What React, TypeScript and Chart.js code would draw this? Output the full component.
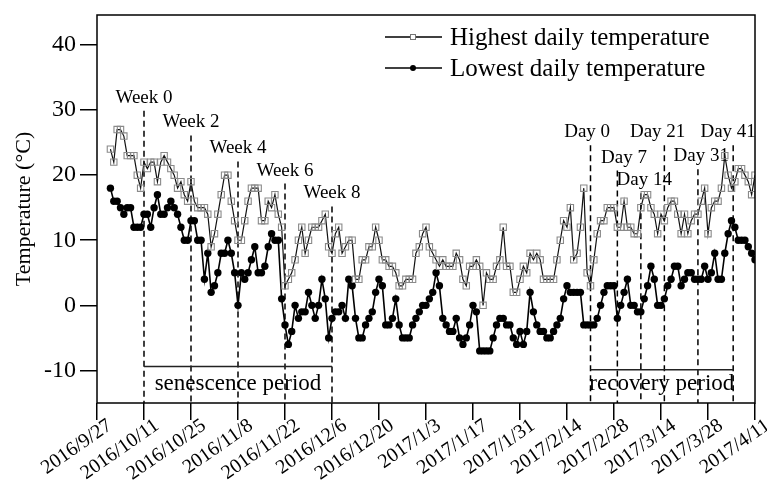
import React, { useEffect, useRef } from 'react';
import { Chart, registerables } from 'chart.js';

Chart.register(...registerables);

const SERIF = '"Liberation Serif", "Times New Roman", serif';

// x axis: days after 2016/9/27
const xTickLabels = [
  '2016/9/27', '2016/10/11', '2016/10/25', '2016/11/8', '2016/11/22', '2016/12/6', '2016/12/20',
  '2017/1/3', '2017/1/17', '2017/1/31', '2017/2/14', '2017/2/28', '2017/3/14', '2017/3/28', '2017/4/11',
];
const xTickDays = [0, 14, 28, 42, 56, 70, 84, 98, 112, 126, 140, 154, 168, 182, 196];
const yTickValues = [-10, 0, 10, 20, 30, 40];

const firstDataDay = 4; // 2016/10/1

const highTemps = [
  24, 22, 27, 27, 26, 23, 23, 23, 20, 18,
  22, 21, 22, 22, 19, 22, 23, 22, 21, 20,
  18, 19, 17, 16, 19, 16, 15, 15, 15, 14,
  9, 11, 14, 17, 20, 20, 16, 13, 10, 10,
  13, 16, 18, 18, 18, 13, 13, 16, 15, 17,
  14, 12, 3, 4, 5, 7, 10, 12, 8, 10,
  12, 12, 12, 13, 14, 9, 8, 11, 12, 8,
  9, 10, 10, 4, 4, 7, 7, 9, 9, 12,
  10, 7, 7, 6, 6, 5, 3, 3, 4, 4,
  4, 8, 9, 11, 12, 9, 8, 7, 6, 7,
  6, 6, 6, 8, 7, 4, 3, 6, 6, 7,
  6, 0, 5, 4, 4, 6, 7, 12, 6, 6,
  2, 2, 4, 6, 5, 8, 7, 8, 7, 4,
  4, 4, 4, 7, 10, 13, 12, 15, 7, 8,
  12, 18, 5, 3, 7, 11, 13, 13, 15, 15,
  15, 12, 12, 16, 12, 12, 11, 11, 15, 17,
  17, 15, 14, 11, 14, 13, 15, 16, 16, 14,
  11, 14, 11, 13, 14, 14, 16, 18, 11, 15,
  16, 16, 18, 23, 20, 18, 19, 21, 21, 20,
  19, 17, 20,
];

const lowTemps = [
  18, 16, 16, 15, 14, 15, 15, 12, 12, 12,
  14, 14, 12, 15, 17, 14, 14, 15, 16, 15,
  14, 12, 10, 10, 13, 13, 10, 10, 4, 8,
  2, 3, 5, 8, 8, 10, 8, 5, 0, 5,
  4, 5, 7, 9, 5, 5, 6, 9, 11, 10,
  10, 1, -3, -6, -4, 0, -2, -1, -1, 2,
  0, -2, 0, 4, 1, -5, -2, -1, -1, 0,
  -2, 4, 3, -2, -5, -5, -3, -2, -1, 2,
  4, 3, -3, -3, -2, 1, -3, -5, -5, -5,
  -3, -2, -1, 0, 0, 1, 2, 5, 3, -2,
  -3, -4, -4, -2, -5, -6, -5, -3, 0, -1,
  -7, -7, -7, -7, -5, -3, -2, -2, -3, -3,
  -5, -6, -4, -6, -4, 2, -1, -3, -4, -4,
  -5, -5, -4, -3, -2, 1, 3, 2, 2, 2,
  2, -3, -3, -3, -3, -2, 0, 2, 3, 3,
  3, -2, 0, 2, 4, 0, 0, -1, -1, 1,
  3, 6, 4, 0, 0, 1, 3, 4, 6, 6,
  3, 4, 5, 5, 4, 4, 4, 6, 4, 5,
  8, 4, 4, 8, 11, 13, 12, 10, 10, 10,
  9, 8, 7,
];

const seriesNames = ['Highest daily temperature', 'Lowest daily temperature'];

const weekLabels = ['Week 0', 'Week 2', 'Week 4', 'Week 6', 'Week 8'];
const weekDays = [14, 28, 42, 56, 70];
const weekLabelTemps = [31.9, 28.1, 24.1, 20.7, 17.2];

const dayLabels = ['Day 0', 'Day 7', 'Day 14', 'Day 21', 'Day 31', 'Day 41'];
const dayLineDays = [147, 155, 162, 169, 179, 189.5];
const dayLabelDays = [146, 157, 163, 167, 180, 188];
const dayLabelTemps = [26.6, 22.7, 19.2, 26.6, 22.9, 26.6];

const periodLabels = ['senescence period', 'recovery period'];
const periodStartDays = [14, 147];
const periodEndDays = [70, 189.5];
const periodLineTemps = [-9.4, -9.9];
const periodTextTemps = [-12.1, -12.1];

const X_LABEL_ANGLE = (35 * Math.PI) / 180;

const annotationPlugin = {
  id: 'tempAnnotations',
  beforeDatasetsDraw(chart: any) {
    const { ctx, chartArea, scales } = chart;
    const x = scales.x;
    const y = scales.y;
    ctx.save();
    ctx.strokeStyle = '#000';
    ctx.lineWidth = 1.5;
    ctx.setLineDash([6, 4]);
    weekDays.forEach((d, i) => {
      const px = x.getPixelForValue(d);
      const top = y.getPixelForValue(weekLabelTemps[i]) + 13;
      ctx.beginPath();
      ctx.moveTo(px, top);
      ctx.lineTo(px, chartArea.bottom);
      ctx.stroke();
    });
    dayLineDays.forEach((d, i) => {
      const px = x.getPixelForValue(d);
      const top = y.getPixelForValue(dayLabelTemps[i]) + 13;
      ctx.beginPath();
      ctx.moveTo(px, top);
      ctx.lineTo(px, chartArea.bottom);
      ctx.stroke();
    });
    ctx.setLineDash([]);
    ctx.strokeStyle = '#222';
    ctx.lineWidth = 1.5;
    periodLabels.forEach((_, i) => {
      const py = y.getPixelForValue(periodLineTemps[i]);
      ctx.beginPath();
      ctx.moveTo(x.getPixelForValue(periodStartDays[i]), py);
      ctx.lineTo(x.getPixelForValue(periodEndDays[i]), py);
      ctx.stroke();
    });
    ctx.fillStyle = '#000';
    ctx.textAlign = 'center';
    ctx.textBaseline = 'middle';
    ctx.font = `19px ${SERIF}`;
    weekLabels.forEach((t, i) => {
      ctx.fillText(t, x.getPixelForValue(weekDays[i]), y.getPixelForValue(weekLabelTemps[i]));
    });
    dayLabels.forEach((t, i) => {
      ctx.fillText(t, x.getPixelForValue(dayLabelDays[i]), y.getPixelForValue(dayLabelTemps[i]));
    });
    ctx.font = `23px ${SERIF}`;
    periodLabels.forEach((t, i) => {
      const cx = x.getPixelForValue((periodStartDays[i] + periodEndDays[i]) / 2);
      ctx.fillText(t, cx, y.getPixelForValue(periodTextTemps[i]));
    });
    ctx.restore();
  },
  afterDraw(chart: any) {
    const { ctx, chartArea, scales } = chart;
    const x = scales.x;
    ctx.save();
    ctx.strokeStyle = '#000';
    ctx.lineWidth = 1.5;
    ctx.strokeRect(chartArea.left, chartArea.top, chartArea.right - chartArea.left, chartArea.bottom - chartArea.top);

    // rotated x tick labels
    ctx.fillStyle = '#000';
    ctx.font = `20px ${SERIF}`;
    ctx.textAlign = 'right';
    ctx.textBaseline = 'alphabetic';
    xTickLabels.forEach((t, i) => {
      const px = x.getPixelForValue(xTickDays[i]);
      ctx.save();
      ctx.translate(px + 16, chartArea.bottom + 25);
      ctx.rotate(-X_LABEL_ANGLE);
      ctx.fillText(t, 0, 0);
      ctx.restore();
    });

    // legend
    const lx0 = 385;
    const lx1 = 442;
    const mx = 413;
    seriesNames.forEach((name, i) => {
      const ly = 37 + i * 31;
      ctx.strokeStyle = '#000';
      ctx.lineWidth = 1.3;
      ctx.beginPath();
      ctx.moveTo(lx0, ly);
      ctx.lineTo(lx1, ly);
      ctx.stroke();
      if (i === 0) {
        ctx.fillStyle = '#fff';
        ctx.fillRect(mx - 2.5, ly - 2.5, 5, 5);
        ctx.strokeStyle = '#777';
        ctx.lineWidth = 1;
        ctx.strokeRect(mx - 2.5, ly - 2.5, 5, 5);
      } else {
        ctx.fillStyle = '#000';
        ctx.beginPath();
        ctx.arc(mx, ly, 3, 0, Math.PI * 2);
        ctx.fill();
      }
      ctx.fillStyle = '#000';
      ctx.font = `25px ${SERIF}`;
      ctx.textAlign = 'left';
      ctx.textBaseline = 'middle';
      ctx.fillText(name, 450, ly + 1);
    });
    ctx.restore();
  },
};

export default function App() {
  const canvasRef = useRef<HTMLCanvasElement | null>(null);

  useEffect(() => {
    const canvas = canvasRef.current;
    if (!canvas) return;
    const chart = new Chart(canvas, {
      type: 'line',
      data: {
        datasets: [
          {
            label: seriesNames[0],
            data: highTemps.map((v, i) => ({ x: firstDataDay + i, y: v })),
            borderColor: '#111',
            borderWidth: 1.2,
            pointStyle: 'rect',
            pointRadius: 4.5,
            pointBorderColor: '#8a8a8a',
            pointBackgroundColor: 'rgba(255,255,255,0)',
            pointBorderWidth: 1.1,
            tension: 0,
          },
          {
            label: seriesNames[1],
            data: lowTemps.map((v, i) => ({ x: firstDataDay + i, y: v })),
            borderColor: '#000',
            borderWidth: 1.6,
            pointStyle: 'circle',
            pointRadius: 3.7,
            pointBackgroundColor: '#000',
            pointBorderColor: '#000',
            pointBorderWidth: 0,
            tension: 0,
          },
        ],
      },
      options: {
        responsive: false,
        animation: false,
        devicePixelRatio: 1,
        layout: { padding: { left: 0, right: 12, top: 15, bottom: 0 } },
        plugins: { legend: { display: false }, tooltip: { enabled: false } },
        scales: {
          x: {
            type: 'linear',
            min: 0,
            max: 196,
            afterBuildTicks: (s: any) => {
              s.ticks = xTickDays.map((v) => ({ value: v }));
            },
            afterFit: (s: any) => {
              s.height = 83;
              s.paddingLeft = 0;
              s.paddingRight = 0;
            },
            ticks: {
              display: false,
              autoSkip: false,
              callback: (_v: any, i: number) => xTickLabels[i],
            },
            grid: { drawOnChartArea: false, drawTicks: true, tickLength: 17, color: '#000', lineWidth: 1.5 },
            border: { display: false },
          },
          y: {
            type: 'linear',
            min: -15,
            max: 44.6,
            afterBuildTicks: (s: any) => {
              s.ticks = yTickValues.map((v) => ({ value: v }));
            },
            afterFit: (s: any) => {
              s.width = 97;
              s.paddingTop = 0;
              s.paddingBottom = 0;
            },
            ticks: {
              padding: 4,
              color: '#000',
              font: { family: SERIF, size: 24 },
            },
            grid: { drawOnChartArea: false, drawTicks: true, tickLength: 17, color: '#000', lineWidth: 1.5 },
            border: { display: false },
            title: {
              display: true,
              text: 'Temperature (°C)',
              color: '#000',
              font: { family: SERIF, size: 22 },
              padding: { top: 11, bottom: 0 },
            },
          },
        },
      },
      plugins: [annotationPlugin],
    } as any);
    return () => chart.destroy();
  }, []);

  return (
    <div style={{ position: 'absolute', left: 0, top: 0, width: 767, height: 486, background: '#fff' }}>
      <canvas ref={canvasRef} width={767} height={486} style={{ display: 'block' }} />
    </div>
  );
}
